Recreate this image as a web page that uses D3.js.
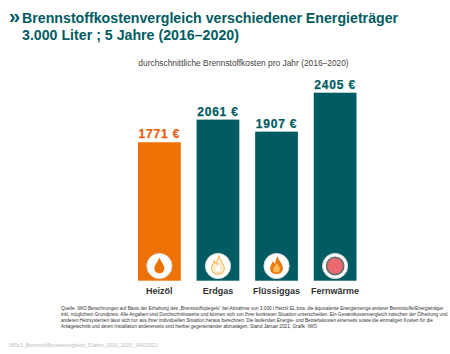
<!DOCTYPE html>
<html>
<head>
<meta charset="utf-8">
<script src="https://cdn.jsdelivr.net/npm/d3@7"></script>
<style>
  html, body { margin: 0; padding: 0; background: #fff; }
  text { font-family: "Liberation Sans", Arial, sans-serif; }
</style>
</head>
<body>
<div id="chart"></div>
<script>
const categories = ["Heizöl", "Erdgas", "Flüssiggas", "Fernwärme"];
const costs = [1771, 2061, 1907, 2405];
const barColors = ["#ee7203", "#005c62", "#005c62", "#005c62"];
const labelColors = ["#ee5a0c", "#005c62", "#005c62", "#005c62"];
const iconTypes = ["drop", "flameLight", "flameOrange", "dot"];
const titleLines = [
  "Brennstoffkostenvergleich verschiedener Energieträger",
  "3.000 Liter ; 5 Jahre (2016–2020)"
];
const subtitle = "durchschnittliche Brennstoffkosten pro Jahr (2016–2020)";
const footnote = [
  "Quelle: IWO Berechnungen auf Basis der Erhebung des „Brennstoffspiegels“ bei Abnahme von 3.000 l Heizöl EL bzw. die äquivalente Energiemenge anderer Brennstoffe/Energieträger",
  "inkl. möglichem Grundpreis. Alle Angaben sind Durchschnittswerte und können sich von Ihrer konkreten Situation unterscheiden. Ein Gesamtkostenvergleich zwischen der Ölheizung und",
  "anderen Heizsystemen lässt sich nur aus Ihrer individuellen Situation heraus berechnen. Die laufenden Energie- und Betriebskosten einerseits sowie die einmaligen Kosten für die",
  "Anlagetechnik und deren Installation andererseits sind hierbei gegeneinander abzuwägen. Stand Januar 2021, Grafik: IWO"
];
const fileName = "085c3_Brennstoffkostenvergleich_5Jahre_2016_2020_14012021";

const width = 450;
const height = 354;

const svg = d3.select("#chart").append("svg")
  .attr("width", width)
  .attr("height", height)
  .style("display", "block");

const x = d3.scaleBand()
  .domain(categories)
  .range([138, 356.5])
  .paddingInner(0.27);

const y = d3.scaleLinear()
  .domain([0, 2405])
  .range([280.7, 92.7]);

// title
svg.append("text")
  .attr("x", 9)
  .attr("y", 22.8)
  .attr("font-size", 20)
  .attr("font-weight", "bold")
  .attr("fill", "#005c62")
  .text("»");

svg.selectAll(".title-line")
  .data(titleLines)
  .join("text")
  .attr("class", "title-line")
  .attr("x", 22)
  .attr("y", (d, i) => 23.3 + i * 16.8)
  .attr("font-size", 14.2)
  .attr("font-weight", "bold")
  .attr("fill", "#005c62")
  .text(d => d);

svg.append("text")
  .attr("x", 243.5)
  .attr("y", 66)
  .attr("text-anchor", "middle")
  .attr("font-size", 8.4)
  .attr("fill", "#444")
  .text(subtitle);

// bars
svg.selectAll(".bar")
  .data(categories)
  .join("rect")
  .attr("class", "bar")
  .attr("x", d => x(d))
  .attr("y", (d, i) => y(costs[i]))
  .attr("width", x.bandwidth())
  .attr("height", (d, i) => y(0) - y(costs[i]))
  .attr("fill", (d, i) => barColors[i]);

svg.selectAll(".value")
  .data(categories)
  .join("text")
  .attr("class", "value")
  .attr("x", d => x(d) + x.bandwidth() / 2)
  .attr("y", (d, i) => y(costs[i]) - 4)
  .attr("text-anchor", "middle")
  .attr("font-size", 12)
  .attr("font-weight", "bold")
  .attr("letter-spacing", 0.8)
  .attr("stroke-width", 0.25)
  .attr("stroke", (d, i) => labelColors[i])
  .attr("fill", (d, i) => labelColors[i])
  .text((d, i) => `${costs[i]} €`);

svg.selectAll(".category")
  .data(categories)
  .join("text")
  .attr("class", "category")
  .attr("x", d => x(d) + x.bandwidth() / 2)
  .attr("y", 294)
  .attr("text-anchor", "middle")
  .attr("font-size", 9)
  .attr("font-weight", "bold")
  .attr("fill", "#333")
  .text(d => d);

// icons in the bar feet
const dropPath = "M0,-8.6 C1.5,-4.5 5,-1 5,2.4 C5,5.4 2.7,7.2 0,7.2 C-2.7,7.2 -5,5.4 -5,2.4 C-5,-1 -1.5,-4.5 0,-8.6 Z";
const flamePath = "M1,-10 C1.8,-5.5 6.4,-2.5 6.4,2.6 C6.4,6.2 3.4,8.2 0,8.2 C-3.4,8.2 -6.4,6.2 -6.4,2.6 C-6.4,-0.6 -4.4,-2.4 -3.6,-5 C-2.8,-3.6 -2.2,-2.8 -1.5,-2.2 C-0.8,-4.8 -0.4,-7.6 1,-10 Z";
const flameInner = "M0.5,-3 C1.2,-0.8 3.3,0.8 3.3,3.4 C3.3,5.3 1.7,6.4 0,6.4 C-1.7,6.4 -3.3,5.3 -3.3,3.4 C-3.3,1 -0.7,0 0.5,-3 Z";

const icons = svg.selectAll(".icon")
  .data(categories)
  .join("g")
  .attr("class", "icon")
  .attr("transform", d => `translate(${x(d) + x.bandwidth() / 2},266)`);

icons.append("circle")
  .attr("r", 12.6)
  .attr("fill", "#fff")
  .attr("stroke", "#d8d8d8")
  .attr("stroke-width", 1);

icons.each(function (d, i) {
  const g = d3.select(this);
  const type = iconTypes[i];
  if (type === "drop") {
    g.append("path").attr("d", dropPath).attr("fill", "#ee7203");
  } else if (type === "flameLight") {
    g.append("path").attr("d", flamePath).attr("fill", "#fdf0d8").attr("stroke", "#f6b54e").attr("stroke-width", 1.1);
    g.append("path").attr("d", flameInner).attr("fill", "#fff").attr("stroke", "#f9cf8c").attr("stroke-width", 0.7);
  } else if (type === "flameOrange") {
    g.append("path").attr("d", flamePath).attr("fill", "#ee7a10");
    g.append("path").attr("d", flameInner).attr("fill", "#f9bb5c");
  } else {
    g.append("circle").attr("r", 8.6).attr("fill", "#ea6a70").attr("stroke", "#6e6e70").attr("stroke-width", 1.7);
  }
});

// footnote
svg.selectAll(".footnote")
  .data(footnote)
  .join("text")
  .attr("class", "footnote")
  .attr("x", 61)
  .attr("y", (d, i) => 309.8 + i * 6.2)
  .attr("font-size", 4.72)
  .attr("fill", "#333")
  .text(d => d);

svg.append("text")
  .attr("x", 9)
  .attr("y", 347)
  .attr("font-size", 5.15)
  .attr("fill", "#bbb")
  .text(fileName);
</script>
</body>
</html>
